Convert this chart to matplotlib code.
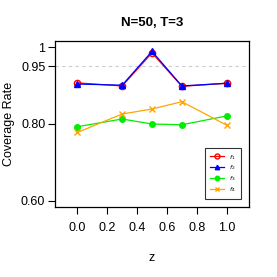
import matplotlib
matplotlib.use("Agg")
import matplotlib.pyplot as plt

plt.rcParams['font.family'] = ['Liberation Sans', 'DejaVu Sans']

z = [0.0, 0.3, 0.5, 0.7, 1.0]
f1 = [0.907, 0.899, 0.985, 0.898, 0.906]
f2 = [0.904, 0.901, 0.989, 0.899, 0.906]
f3 = [0.793, 0.813, 0.800, 0.798, 0.821]
f4 = [0.778, 0.826, 0.839, 0.858, 0.797]

series = [
    (f1, "red", "o", r"$f_1$"),
    (f2, "blue", "^", r"$f_2$"),
    (f3, "#00ee00", "o", r"$f_3$"),
    (f4, "orange", "x", r"$f_4$"),
]

fig = plt.figure(figsize=(2.77, 2.77), dpi=100)
ax = fig.add_axes([55 / 277, 70 / 277, 194 / 277, 166 / 277])

ax.axhline(0.95, color="#cccccc", linestyle="--", linewidth=0.8, dashes=(3, 3))

for vals, col, mk, lab in series:
    if col == "red":
        ax.plot(z, vals, color=col, marker=mk, markersize=4.5, markerfacecolor="none",
                markeredgewidth=1.0, linewidth=0.9, label=lab)
    else:
        ax.plot(z, vals, color=col, marker=mk, markersize=4, linewidth=0.9, label=lab)

ax.set_xlim(-0.15, 1.15)
ax.set_ylim(0.584, 1.016)
ax.set_xticks([0.0, 0.2, 0.4, 0.6, 0.8, 1.0])
ax.set_xticklabels(["0.0", "0.2", "0.4", "0.6", "0.8", "1.0"])
ax.set_yticks([0.60, 0.80, 0.95, 1.0])
ax.set_yticklabels(["0.60", "0.80", "0.95", "1"])
ax.tick_params(axis="x", length=5, pad=6, labelsize=9, width=0.8)
ax.tick_params(axis="y", length=5, pad=2, labelsize=9, width=0.8)
for s in ax.spines.values():
    s.set_linewidth(0.9)

ax.set_xlabel("z", fontsize=9, labelpad=13)
ax.set_ylabel("Coverage Rate", fontsize=9, labelpad=4)
ax.set_title("N=50, T=3", fontsize=9.5, fontweight="bold", pad=11)

leg = ax.legend(loc="lower right", fontsize=4.5, frameon=True, fancybox=False,
                edgecolor="black", handlelength=2.3, borderpad=0.8,
                labelspacing=0.3, handletextpad=0.8, markerscale=0.8,
                bbox_to_anchor=(0.975, 0.03))
leg.get_frame().set_linewidth(0.8)

fig.savefig("out.png", dpi=100)
